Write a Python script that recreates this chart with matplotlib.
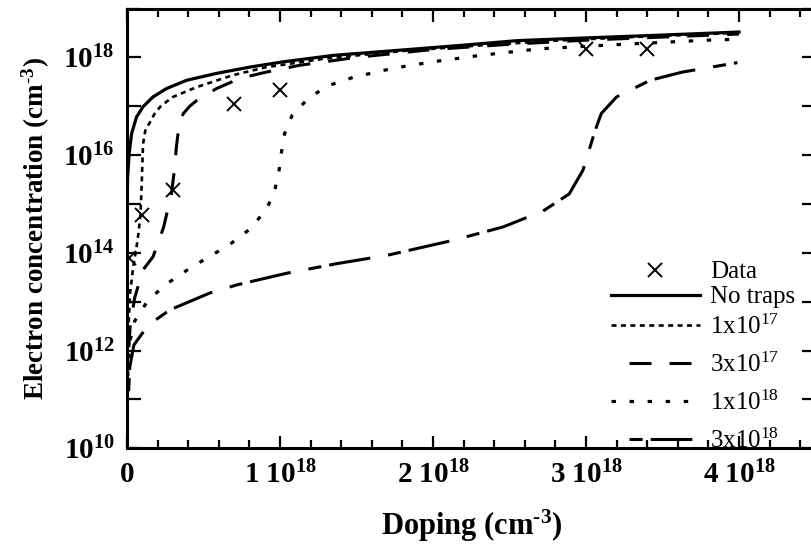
import numpy as np
import matplotlib
matplotlib.use("Agg")
import matplotlib.pyplot as plt
from matplotlib.ticker import FixedLocator, MultipleLocator, NullLocator

plt.rcParams["font.family"] = ["Liberation Serif", "DejaVu Serif"]
plt.rcParams["mathtext.fontset"] = "custom"
plt.rcParams["mathtext.rm"] = "Liberation Serif"
plt.rcParams["mathtext.bf"] = "Liberation Serif:bold"
plt.rcParams["mathtext.default"] = "regular"
plt.rcParams["lines.scale_dashes"] = False

# Doping in units of 1e18 cm^-3, electron concentration in cm^-3
data_x = [0.01, 0.1, 0.3, 0.7, 1.0, 3.0, 3.4]
data_n = [7.8e13, 5.9e14, 1.9e15, 1.13e17, 2.2e17, 1.45e18, 1.5e18]

notrap_x = [0.0003, 0.001, 0.004, 0.014, 0.03, 0.062, 0.105, 0.17, 0.258, 0.39,
            0.585, 0.80, 1.02, 1.35, 1.78, 2.22, 2.55, 3.0, 3.42, 4.0]
notrap_n = [3.0e14, 1.0e15, 3.5e15, 1.07e16, 2.75e16, 6.0e16, 9.8e16, 1.55e17, 2.3e17, 3.4e17,
            4.7e17, 6.3e17, 8.1e17, 1.1e18, 1.4e18, 1.8e18, 2.2e18, 2.5e18, 2.8e18, 3.3e18]

t1e17_x = [0.003, 0.02, 0.04, 0.062, 0.075, 0.088, 0.095, 0.1, 0.105, 0.12, 0.15, 0.18,
           0.22, 0.3, 0.454, 0.69, 0.91, 1.3, 1.8, 2.3, 2.8, 3.3, 3.8, 4.0]
t1e17_n = [1.0e12, 1.5e13, 5.0e13, 1.3e14, 2.5e14, 6.0e14, 2.0e15, 6.0e15, 1.7e16, 3.2e16, 4.7e16, 7.0e16,
           1.0e17, 1.55e17, 2.45e17, 4.3e17, 6.3e17, 9.5e17, 1.35e18, 1.75e18, 2.2e18, 2.6e18, 3.0e18, 3.2e18]

t3e17_x = [0.005, 0.02, 0.05, 0.08, 0.105, 0.17, 0.24, 0.29, 0.31, 0.323, 0.34, 0.367,
           0.41, 0.454, 0.585, 0.737, 0.91, 1.13, 1.5, 2.0, 2.5, 3.0, 3.5, 4.0]
t3e17_n = [5.0e11, 3.0e12, 1.2e13, 2.5e13, 4.5e13, 8.3e13, 3.4e14, 1.6e15, 5.0e15, 1.5e16, 4.0e16, 7.0e16,
           1.0e17, 1.3e17, 2.3e17, 3.7e17, 5.0e17, 6.9e17, 1.0e18, 1.45e18, 1.85e18, 2.25e18, 2.6e18, 3.0e18]

t1e18_x = [0.005, 0.02, 0.05, 0.138, 0.258, 0.40, 0.53, 0.667, 0.80, 0.912, 0.966, 0.994,
           1.01, 1.03, 1.08, 1.195, 1.325, 1.478, 1.74, 2.02, 2.31, 2.70, 3.24, 3.79, 4.0]
t1e18_n = [3.0e11, 1.6e12, 4.0e12, 1.07e13, 2.3e13, 4.6e13, 8.1e13, 1.45e14, 3.0e14, 7.8e14, 1.9e15, 4.9e15,
           1.17e16, 2.75e16, 6.6e16, 1.55e17, 2.7e17, 3.9e17, 6.0e17, 8.3e17, 1.1e18, 1.5e18, 1.85e18, 2.25e18, 2.35e18]

t3e18_x = [0.005, 0.018, 0.045, 0.138, 0.28, 0.54, 0.716, 1.04, 1.37, 1.70, 2.13, 2.46,
           2.72, 2.89, 2.98, 3.02, 3.06, 3.10, 3.20, 3.42, 3.63, 3.99]
t3e18_n = [6.3e10, 4.6e11, 1.3e12, 3.3e12, 6.8e12, 1.5e13, 2.2e13, 3.8e13, 6.0e13, 8.9e13, 1.8e14, 3.4e14,
           7.2e14, 1.6e15, 4.9e15, 1.26e16, 3.2e16, 7.1e16, 1.55e17, 3.4e17, 5.0e17, 7.8e17]

x_ticks = [0, 1, 2, 3, 4]
x_ticklabels = ["0", "1 10$^{18}$", "2 10$^{18}$", "3 10$^{18}$", "4 10$^{18}$"]
y_decades = list(range(10, 20))

fig = plt.figure(figsize=(8.12, 5.44), dpi=100)
ax = fig.add_axes([127 / 812, (544 - 448.3) / 544, 688.5 / 812, (448.3 - 8.5) / 544])

h_data, = ax.plot(data_x, data_n, linestyle="none", marker="x", color="black",
                  markersize=10, markeredgewidth=1.4, label="Data", zorder=5)
h_none, = ax.plot(notrap_x, notrap_n, color="black", lw=2.3, label="No traps")
h_1e17, = ax.plot(t1e17_x, t1e17_n, color="black", lw=1.9, linestyle=(0, (3.6, 3.2)),
                  label="1x10$^{17}$")
h_3e17, = ax.plot(t3e17_x, t3e17_n, color="black", lw=2.2, linestyle=(15.8, (15.8, 13.0)),
                  label="3x10$^{17}$")
h_1e18, = ax.plot(t1e18_x, t1e18_n, color="black", lw=2.3, linestyle=(0, (3.2, 9.8)),
                  label="1x10$^{18}$")
h_3e18, = ax.plot(t3e18_x, t3e18_n, color="black", lw=2.2,
                  linestyle=(30.0, (30.0, 13.0, 9.4, 5.8)), label="3x10$^{18}$")

ax.set_yscale("log")
ax.set_xlim(0, 4.5)
ax.set_ylim(1e10, 1e19)

ax.xaxis.set_major_locator(FixedLocator(x_ticks))
ax.xaxis.set_minor_locator(MultipleLocator(0.2))
ax.set_xticklabels(x_ticklabels, fontsize=21, fontweight="bold")

ax.yaxis.set_major_locator(FixedLocator([10.0 ** d for d in y_decades]))
ax.yaxis.set_minor_locator(NullLocator())
ax.set_yticklabels(["10$^{%d}$" % d if d % 2 == 0 else "" for d in y_decades],
                   fontsize=21, fontweight="bold")

ax.tick_params(which="both", direction="in", top=True, right=True, width=1.6, color="black")
ax.tick_params(axis="x", which="major", length=9, pad=9)
ax.tick_params(axis="x", which="minor", length=5.5)
ax.tick_params(axis="y", which="major", length=10, pad=9)

for s in ax.spines.values():
    s.set_linewidth(2.2)

ax.set_xlabel("Doping (cm$^{\\text{-}3}$)", fontsize=22, fontweight="bold", labelpad=13)
ax.set_ylabel("Electron concentration (cm$^{\\text{-}3}$)", fontsize=19.5,
              fontweight="bold", labelpad=8)

leg_kw = dict(frameon=False, fontsize=18, handlelength=3.55, handletextpad=0.4,
              borderpad=0, borderaxespad=0, numpoints=1, loc="upper left")
leg_top = ax.legend([h_data, h_none], ["Data", "No traps"],
                    bbox_to_anchor=(0.703, 0.426), labelspacing=0.1, **leg_kw)
ax.add_artist(leg_top)
ax.legend([h_1e17, h_3e17, h_1e18, h_3e18],
          ["1x10$^{17}$", "3x10$^{17}$", "1x10$^{18}$", "3x10$^{18}$"],
          bbox_to_anchor=(0.703, 0.304), labelspacing=0.55, **leg_kw)

fig.savefig("out.png", dpi=100, facecolor="white")
